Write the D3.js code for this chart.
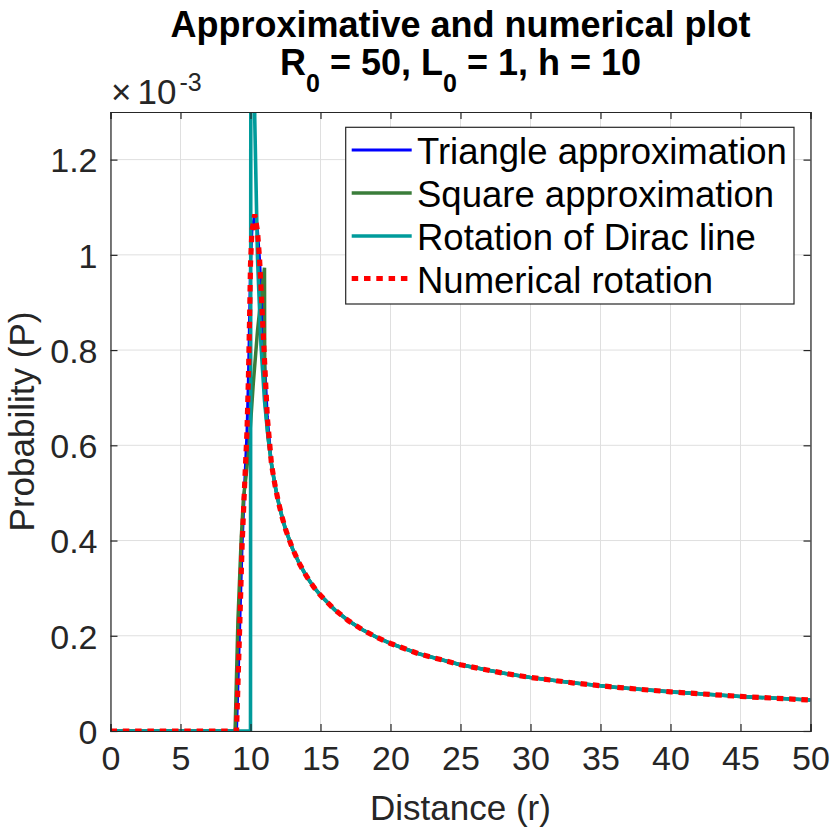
<!DOCTYPE html>
<html><head><meta charset="utf-8">
<script src="https://cdn.jsdelivr.net/npm/d3@7"></script>
<style>
html,body{margin:0;padding:0;background:#fff;}
svg{display:block;}
text{font-family:"Liberation Sans",Arial,Helvetica,sans-serif;}
</style>
</head><body><div id="chart"></div>
<script>
// ---------- data (y values in units of 1e-3) ----------
const xTicks = [0, 5, 10, 15, 20, 25, 30, 35, 40, 45, 50];
const yTicks = [0, 0.2, 0.4, 0.6, 0.8, 1.0, 1.2];
const yTickLabels = ["0", "0.2", "0.4", "0.6", "0.8", "1", "1.2"];
const seriesNames = ["Triangle approximation", "Square approximation", "Rotation of Dirac line", "Numerical rotation"];

// common tail (all four curves coincide for r >= 11.5)
const tailX = [11.5, 11.75, 12, 12.25, 12.5, 13, 13.5, 14, 14.5, 15, 16, 17, 18, 19, 20, 22, 25, 28, 30, 33, 36, 40, 45, 50];
const tailY = [0.560, 0.516, 0.480, 0.450, 0.424, 0.383, 0.351, 0.325, 0.303, 0.285, 0.255, 0.2315, 0.2127, 0.197, 0.1838, 0.1624, 0.139, 0.1217, 0.1125, 0.1012, 0.092, 0.0822, 0.0726, 0.065];

// triangle approximation (head part)
const triX = [0, 9.0, 9.2, 9.4, 9.6, 9.75, 9.85, 9.93, 10.0, 10.1, 10.3, 10.5, 10.65, 10.8, 11.0, 11.2];
const triY = [0, 0, 0.19, 0.39, 0.53, 0.63, 0.74, 0.86, 0.98, 1.05, 1.085, 1.05, 0.99, 0.90, 0.78, 0.66];

// square approximation (head part)
const sqX = [0, 8.9, 9.1, 9.33, 9.5, 9.7, 9.9, 10.2, 10.5, 10.75, 11.0, 11.02, 11.25];
const sqY = [0, 0, 0.23, 0.40, 0.49, 0.54, 0.60, 0.73, 0.84, 0.91, 0.973, 0.70, 0.618];

// rotation of Dirac line (head part)
const dirX = [0, 10.0, 10.05, 10.3, 10.5, 10.75, 11.0, 11.25];
const dirY = [0, 0, 3.2, 1.29, 0.994, 0.81, 0.694, 0.618];

// numerical rotation (head part)
const numX = [0, 9.0, 9.2, 9.4, 9.6, 9.75, 9.85, 9.93, 10.0, 10.1, 10.3, 10.5, 10.65, 10.8, 11.0, 11.2];
const numY = [0, 0, 0.19, 0.39, 0.53, 0.63, 0.74, 0.86, 0.98, 1.05, 1.085, 1.05, 0.99, 0.90, 0.78, 0.66];

const colors = ["#0000ff", "#3a7d3a", "#009b9b", "#ff0000"];

// ---------- build ----------
const W = 830, H = 830;
const plot = {left: 110.5, right: 810.5, top: 112, bottom: 731};
const x = d3.scaleLinear().domain([0, 50]).range([plot.left, plot.right]);
const y = d3.scaleLinear().domain([0, 1.3]).range([plot.bottom, plot.top]);

function pts(hx, hy) {
  const a = hx.map((v, i) => [v, hy[i]]);
  return a.concat(tailX.map((v, i) => [v, tailY[i]]));
}
const series = [
  {name: seriesNames[0], data: pts(triX, triY), color: colors[0], width: 3, dash: null},
  {name: seriesNames[1], data: pts(sqX, sqY), color: colors[1], width: 3.5, dash: null},
  {name: seriesNames[2], data: pts(dirX, dirY), color: colors[2], width: 3.6, dash: null},
  {name: seriesNames[3], data: pts(numX, numY), color: colors[3], width: 5.2, dash: "6.5,5.8"}
];

const svg = d3.select("#chart").append("svg").attr("width", W).attr("height", H);
svg.append("rect").attr("width", W).attr("height", H).attr("fill", "#fff");

// grid
const grid = svg.append("g");
grid.selectAll("line.vx").data(xTicks).join("line")
  .attr("x1", d => x(d)).attr("x2", d => x(d)).attr("y1", plot.top).attr("y2", plot.bottom)
  .attr("stroke", "#dfdfdf").attr("stroke-width", 1);
grid.selectAll("line.hy").data(yTicks).join("line")
  .attr("y1", d => y(d)).attr("y2", d => y(d)).attr("x1", plot.left).attr("x2", plot.right)
  .attr("stroke", "#dfdfdf").attr("stroke-width", 1);

// clip
svg.append("clipPath").attr("id", "clip").append("rect")
  .attr("x", plot.left).attr("y", plot.top)
  .attr("width", plot.right - plot.left).attr("height", plot.bottom - plot.top);

const line = d3.line().x(d => x(d[0])).y(d => y(d[1]));
const lines = svg.append("g").attr("clip-path", "url(#clip)");
series.forEach(s => {
  lines.append("path").attr("d", line(s.data)).attr("fill", "none")
    .attr("stroke", s.color).attr("stroke-width", s.width)
    .attr("stroke-linejoin", "miter").attr("stroke-linecap", "butt")
    .attr("stroke-dasharray", s.dash);
});

// axes (ticks inside, box)
const axisColor = "#262626";
const fmtY = d => yTickLabels[yTicks.indexOf(d)];
const gB = svg.append("g").attr("transform", `translate(0,${plot.bottom})`)
  .call(d3.axisBottom(x).tickValues(xTicks).tickSize(-7).tickPadding(15).tickFormat(d3.format("d")));
const gT = svg.append("g").attr("transform", `translate(0,${plot.top})`)
  .call(d3.axisTop(x).tickValues(xTicks).tickSize(-7).tickFormat(""));
const gL = svg.append("g").attr("transform", `translate(${plot.left},0)`)
  .call(d3.axisLeft(y).tickValues(yTicks).tickSize(-7).tickPadding(13).tickFormat(fmtY));
const gR = svg.append("g").attr("transform", `translate(${plot.right},0)`)
  .call(d3.axisRight(y).tickValues(yTicks).tickSize(-7).tickFormat(""));
[gB, gT, gL, gR].forEach(g => {
  g.select(".domain").attr("stroke", axisColor).attr("stroke-width", 1.2);
  g.selectAll(".tick line").attr("stroke", axisColor).attr("stroke-width", 1.2);
  g.selectAll(".tick text").attr("fill", axisColor).style("font-size", "34px")
    .style("font-family", '"Liberation Sans",Arial,Helvetica,sans-serif');
});
gB.selectAll(".tick text").attr("dy", "0.71em");
gL.selectAll(".tick text").attr("dy", "0.36em");

// axis labels
svg.append("text").attr("x", (plot.left + plot.right) / 2).attr("y", 820)
  .attr("text-anchor", "middle").attr("fill", axisColor).style("font-size", "35px")
  .text("Distance (r)");
svg.append("text").attr("transform", `translate(34,${(plot.top + plot.bottom) / 2}) rotate(-90)`)
  .attr("text-anchor", "middle").attr("fill", axisColor).style("font-size", "35px")
  .text("Probability (P)");

// exponent
const ex = svg.append("text").attr("x", 111).attr("y", 104).attr("fill", axisColor).style("font-size", "35px");
ex.append("tspan").text("\u00d7");
ex.append("tspan").attr("dx", 6).text("10");
ex.append("tspan").attr("dx", 3).attr("dy", -13).style("font-size", "25px").text("-3");

// title
svg.append("text").attr("x", (plot.left + plot.right) / 2).attr("y", 37)
  .attr("text-anchor", "middle").attr("fill", "#000").style("font-size", "36px").style("font-weight", "bold")
  .text("Approximative and numerical plot");
const t2 = svg.append("text").attr("x", (plot.left + plot.right) / 2).attr("y", 75)
  .attr("text-anchor", "middle").attr("fill", "#000").style("font-size", "36px").style("font-weight", "bold");
t2.append("tspan").text("R");
t2.append("tspan").attr("dy", 17).style("font-size", "25px").text("0");
t2.append("tspan").attr("dy", -17).text(" = 50, L");
t2.append("tspan").attr("dy", 17).style("font-size", "25px").text("0");
t2.append("tspan").attr("dy", -17).text(" = 1, h = 10");

// legend
const leg = svg.append("g");
leg.append("rect").attr("x", 345.7).attr("y", 127.3).attr("width", 448.3).attr("height", 176.7)
  .attr("fill", "#fff").attr("stroke", axisColor).attr("stroke-width", 1.2);
const rowY = [150, 193, 236, 278.5];
series.forEach((s, i) => {
  leg.append("line").attr("x1", 351.7).attr("x2", 411.7).attr("y1", rowY[i]).attr("y2", rowY[i])
    .attr("stroke", s.color).attr("stroke-width", s.width).attr("stroke-dasharray", s.dash);
  leg.append("text").attr("x", 417).attr("y", rowY[i] + 14).attr("fill", "#000")
    .style("font-size", "36.5px").text(s.name);
});
</script>
</body></html>
